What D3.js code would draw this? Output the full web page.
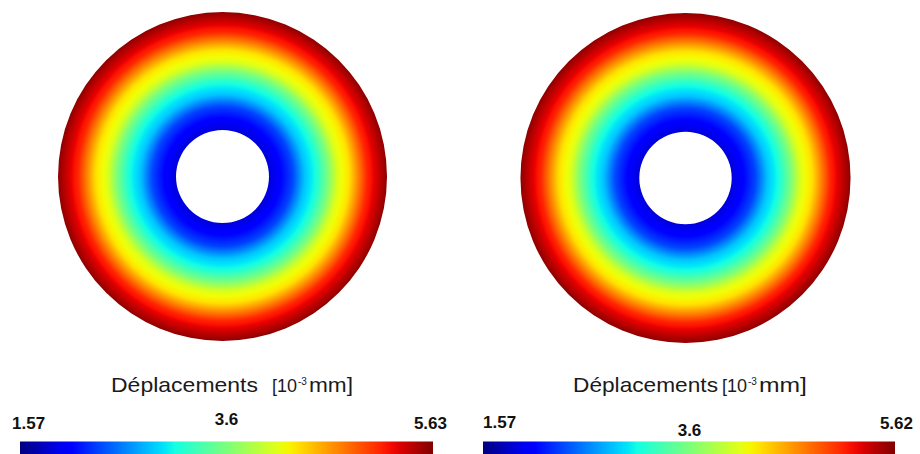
<!DOCTYPE html>
<html>
<head>
<meta charset="utf-8">
<script src="https://cdn.jsdelivr.net/npm/d3@7"></script>
<style>
  html, body { margin: 0; padding: 0; background: #fff; }
  svg { display: block; }
</style>
</head>
<body>
<div id="chart"></div>
<script>
// === Displacement rings (two FE results) ===

// radial stations across the ring: 0 = inner edge, 1 = outer edge
const radialStations = [0, 0.08, 0.2, 0.3, 0.4, 0.5, 0.58, 0.68, 0.83, 1];
// displacement read along a radius, 10^-3 mm
const dispLeft = [1.89, 2.02, 2.35, 2.85, 3.12, 3.6, 4.08, 4.3, 5.10, 5.58];
const dispRight = [1.89, 2.02, 2.35, 2.85, 3.12, 3.6, 4.08, 4.3, 5.10, 5.57];
// colour bar ranges and tick labels
const rangeLeft = [1.57, 5.63];
const rangeRight = [1.57, 5.62];
const ticksLeft = ['1.57', '3.6', '5.63'];
const ticksRight = ['1.57', '3.6', '5.62'];
const titleText = 'Déplacements';
const unitText = ['[10', '-3', 'mm]'];

const WIDTH = 920;
const HEIGHT = 454;
const FONT = '"Liberation Sans", Arial, Helvetica, sans-serif';

// matplotlib-style jet colormap, one linear scale per channel
const jetR = d3.scaleLinear().domain([0, 0.35, 0.66, 0.89, 1]).range([0, 0, 1, 1, 0.5]).clamp(true);
const jetG = d3.scaleLinear().domain([0, 0.125, 0.375, 0.64, 0.91, 1]).range([0, 0, 1, 1, 0, 0]).clamp(true);
const jetB = d3.scaleLinear().domain([0, 0.11, 0.34, 0.65, 1]).range([0.5, 1, 1, 0, 0]).clamp(true);
function jet(t) {
  return d3.rgb(jetR(t) * 255, jetG(t) * 255, jetB(t) * 255).formatHex();
}

const panels = [
  {
    id: 'left', values: dispLeft, range: rangeLeft, ticks: ticksLeft,
    cx: 222.5, cy: 176.5, rOut: 164.5, rIn: 46.5,
    bar: { x0: 20, x1: 433 },
    tickPos: [{ x: 12, y: 428.7, anchor: 'start' }, { y: 425, anchor: 'middle' }, { x: 447, y: 428.5, anchor: 'end' }],
    title: { x: 111, w: 147, ux: 272, mw: 44 }
  },
  {
    id: 'right', values: dispRight, range: rangeRight, ticks: ticksRight,
    cx: 685.5, cy: 178, rOut: 165, rIn: 46.2,
    bar: { x0: 483, x1: 895 },
    tickPos: [{ x: 483, y: 427.5, anchor: 'start' }, { y: 436, anchor: 'middle' }, { x: 913, y: 429, anchor: 'end' }],
    title: { x: 573, w: 145, ux: 722, mw: 48 }
  }
];

const svg = d3.select('#chart')
  .append('svg')
  .attr('width', WIDTH)
  .attr('height', HEIGHT)
  .style('font-family', FONT);

const defs = svg.append('defs');

for (const p of panels) {
  const colorT = d3.scaleLinear().domain(p.range).range([0, 1]).clamp(true);
  const profile = d3.scaleLinear().domain(radialStations).range(p.values);
  const radius = d3.scaleLinear().domain([0, 1]).range([p.rIn, p.rOut]);

  // Radial gradient carrying the field from inner to outer edge
  const grad = defs.append('radialGradient')
    .attr('id', `ring-${p.id}`)
    .attr('gradientUnits', 'userSpaceOnUse')
    .attr('cx', 0).attr('cy', 0).attr('r', p.rOut);
  const steps = 80;
  grad.append('stop')
    .attr('offset', 0)
    .attr('stop-color', jet(colorT(p.values[0])));
  for (let k = 0; k <= steps; k++) {
    const s = k / steps;
    grad.append('stop')
      .attr('offset', radius(s) / p.rOut)
      .attr('stop-color', jet(colorT(profile(s))));
  }

  const g = svg.append('g').attr('transform', `translate(${p.cx},${p.cy})`);
  g.append('path')
    .attr('d', d3.arc()({ innerRadius: p.rIn, outerRadius: p.rOut, startAngle: 0, endAngle: 2 * Math.PI }))
    .attr('fill', `url(#ring-${p.id})`);

  // Colour bar
  const barGrad = defs.append('linearGradient')
    .attr('id', `bar-${p.id}`)
    .attr('x1', 0).attr('x2', 1).attr('y1', 0).attr('y2', 0);
  for (let k = 0; k <= 40; k++) {
    barGrad.append('stop')
      .attr('offset', k / 40)
      .attr('stop-color', jet(k / 40));
  }
  const barX = d3.scaleLinear().domain(p.range).range([p.bar.x0, p.bar.x1]);
  svg.append('rect')
    .attr('x', barX(p.range[0])).attr('y', 441.5)
    .attr('width', barX(p.range[1]) - barX(p.range[0]))
    .attr('height', 14)
    .attr('fill', `url(#bar-${p.id})`);

  // Tick labels
  p.ticks.forEach((label, i) => {
    const pos = p.tickPos[i];
    svg.append('text')
      .attr('x', pos.x !== undefined ? pos.x : barX(+label))
      .attr('y', pos.y)
      .attr('text-anchor', pos.anchor)
      .attr('font-size', '17px')
      .attr('font-weight', 'bold')
      .attr('fill', '#111')
      .text(label);
  });

  // Title with units
  svg.append('text')
    .attr('x', p.title.x).attr('y', 391.7)
    .attr('font-size', '21px')
    .attr('fill', '#1a1a1a')
    .attr('textLength', p.title.w)
    .attr('lengthAdjust', 'spacingAndGlyphs')
    .text(titleText);
  svg.append('text')
    .attr('x', p.title.ux).attr('y', 391.7)
    .attr('font-size', '18px').attr('fill', '#1a1a1a')
    .attr('textLength', 25).attr('lengthAdjust', 'spacingAndGlyphs')
    .text(unitText[0]);
  svg.append('text')
    .attr('x', p.title.ux + 26).attr('y', 385)
    .attr('font-size', '10px').attr('fill', '#1a1a1a')
    .text(unitText[1]);
  svg.append('text')
    .attr('x', p.title.ux + 37).attr('y', 391.7)
    .attr('font-size', '20px').attr('fill', '#1a1a1a')
    .attr('textLength', p.title.mw).attr('lengthAdjust', 'spacingAndGlyphs')
    .text(unitText[2]);
}
</script>
</body>
</html>
